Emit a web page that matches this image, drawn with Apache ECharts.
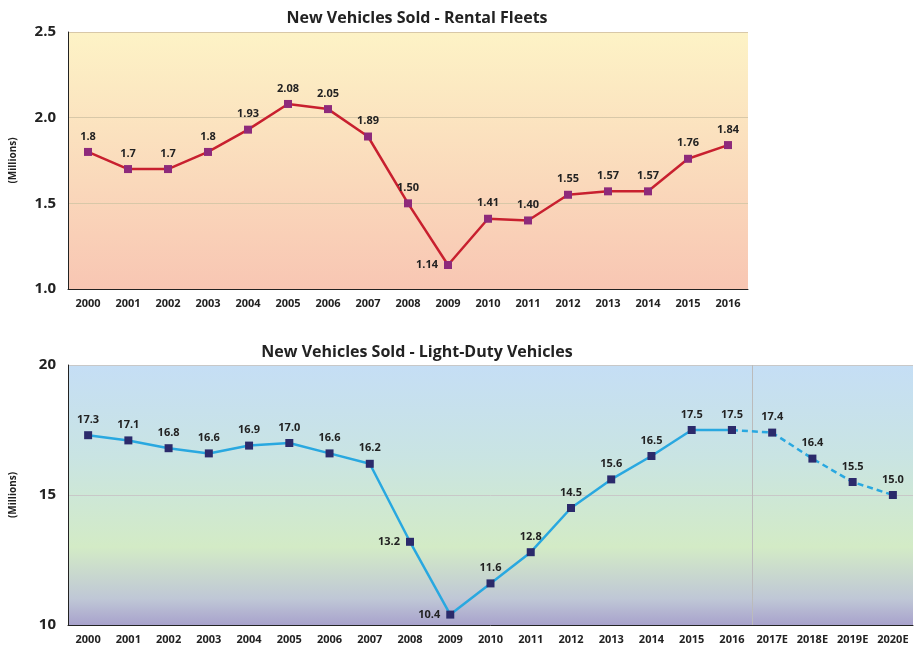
<!DOCTYPE html><html><head><meta charset="utf-8">
<script src="https://cdn.jsdelivr.net/npm/echarts@6/dist/echarts.min.js"></script>
<style>html,body{margin:0;padding:0;background:#fff}#c{width:920px;height:652px}</style></head><body><div id="c"></div>
<script>
const rentalYears=['2000','2001','2002','2003','2004','2005','2006','2007','2008','2009','2010','2011','2012','2013','2014','2015','2016'];
const rentalValues=[1.8,1.7,1.7,1.8,1.93,2.08,2.05,1.89,1.50,1.14,1.41,1.40,1.55,1.57,1.57,1.76,1.84];
const rentalLabels=['1.8','1.7','1.7','1.8','1.93','2.08','2.05','1.89','1.50','1.14','1.41','1.40','1.55','1.57','1.57','1.76','1.84'];
const ldYears=['2000','2001','2002','2003','2004','2005','2006','2007','2008','2009','2010','2011','2012','2013','2014','2015','2016','2017E','2018E','2019E','2020E'];
const ldActual=[17.3,17.1,16.8,16.6,16.9,17.0,16.6,16.2,13.2,10.4,11.6,12.8,14.5,15.6,16.5,17.5,17.5,null,null,null,null];
const ldForecast=[null,null,null,null,null,null,null,null,null,null,null,null,null,null,null,null,17.5,17.4,16.4,15.5,15.0];
const F='"Open Sans", "DejaVu Sans", sans-serif';
const ch=echarts.init(document.getElementById('c'));
function lbl(i,chart){
  if(chart===0&&i===9)return{position:'left',distance:6};
  if(chart===1&&i===8)return{position:'left',distance:6};
  if(chart===1&&i===9)return{position:'left',distance:6};
  return{position:'top',distance:6};
}
const axX=(data,gi)=>({type:'category',gridIndex:gi,data,boundaryGap:true,axisTick:{show:false},axisLine:{lineStyle:{color:'#222',width:1}},
  axisLabel:{interval:0,color:'#222',fontFamily:F,fontWeight:'bold',fontSize:11,margin:9}});
ch.setOption({
  title:[{text:'New Vehicles Sold - Rental Fleets',left:412,top:5,textAlign:'center',textStyle:{fontFamily:F,fontWeight:'bold',fontSize:16,color:'#222'}},
         {text:'New Vehicles Sold - Light-Duty Vehicles',left:412,top:339,textAlign:'center',textStyle:{fontFamily:F,fontWeight:'bold',fontSize:16,color:'#222'}}],
  grid:[{left:65,right:172,top:32,height:257,show:true,borderWidth:0,
    backgroundColor:new echarts.graphic.LinearGradient(0,0,0,1,[{offset:0,color:'#fdf3c6'},{offset:1,color:'#f8c6b3'}])},
    {left:65,right:7,top:365,height:260,show:true,borderWidth:0,
    backgroundColor:new echarts.graphic.LinearGradient(0,0,0,1,[{offset:0,color:'#c5def5'},{offset:0.35,color:'#c9e4e3'},{offset:0.7,color:'#d3ebc6'},{offset:0.9,color:'#bfc7d6'},{offset:1,color:'#a8a2cc'}])}],
  xAxis:[axX(rentalYears,0),axX(ldYears,1)],
  yAxis:[{type:'value',gridIndex:0,min:1,max:2.5,interval:0.5,name:'(Millions)',nameLocation:'middle',nameGap:50,nameRotate:90,
    nameTextStyle:{fontFamily:F,fontWeight:'bold',fontSize:10,color:'#222'},
    axisLine:{show:true,lineStyle:{color:'#222'}},axisLabel:{formatter:v=>v.toFixed(1),fontFamily:F,fontWeight:'bold',fontSize:15,color:'#222',margin:12},
    splitLine:{lineStyle:{color:'#d8c8a8',width:1}}},
    {type:'value',gridIndex:1,min:10,max:20,interval:5,name:'(Millions)',nameLocation:'middle',nameGap:50,nameRotate:90,
    nameTextStyle:{fontFamily:F,fontWeight:'bold',fontSize:10,color:'#222'},
    axisLine:{show:true,lineStyle:{color:'#222'}},axisLabel:{fontFamily:F,fontWeight:'bold',fontSize:15,color:'#222',margin:12},
    splitLine:{lineStyle:{color:'#c8c8c8',width:1}}}],
  series:[
    {type:'line',xAxisIndex:0,yAxisIndex:0,data:rentalValues.map((v,i)=>({value:v,label:Object.assign({formatter:rentalLabels[i]},lbl(i,0))})),
     symbol:'rect',symbolSize:8,lineStyle:{color:'#c8202f',width:2.5},itemStyle:{color:'#8e2a7b'},
     label:{show:true,fontFamily:F,fontWeight:'bold',fontSize:11,color:'#222'}},
    {type:'line',xAxisIndex:1,yAxisIndex:1,data:ldActual.map((v,i)=>({value:v,label:lbl(i,1)})),
     symbol:'rect',symbolSize:8,lineStyle:{color:'#29a8e0',width:2.5},itemStyle:{color:'#2b2a6b'},
     label:{show:true,fontFamily:F,fontWeight:'bold',fontSize:11,color:'#222',formatter:p=>p.value.toFixed(1)}},
    {type:'line',xAxisIndex:1,yAxisIndex:1,data:ldForecast.map((v,i)=>({value:v,label:{show:i>16,position:'top',distance:6}})),
     symbol:'rect',symbolSize:8,lineStyle:{color:'#29a8e0',width:2.5,type:[6,4]},itemStyle:{color:'#2b2a6b'},
     label:{show:true,fontFamily:F,fontWeight:'bold',fontSize:11,color:'#222',formatter:p=>p.value.toFixed(1)}}
  ]
});
const a=ch.convertToPixel({xAxisIndex:1,yAxisIndex:1},['2016',20]);
const b=ch.convertToPixel({xAxisIndex:1,yAxisIndex:1},['2017E',10]);
const sx=Math.round((a[0]+b[0])/2)+0.5;
ch.setOption({graphic:[{type:'line',shape:{x1:sx,y1:a[1],x2:sx,y2:b[1]},style:{stroke:'#bbb',lineWidth:1},z:1}]});
</script></body></html>
